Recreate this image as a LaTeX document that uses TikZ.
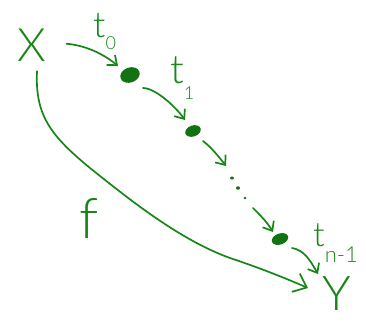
\documentclass[tikz,border=0pt]{standalone}
\usepackage{fontspec}
\newfontfamily\hand{Lato Light}
\usetikzlibrary{arrows.meta,shapes.geometric}
\definecolor{ink}{RGB}{22,134,22}
\begin{document}
\begin{tikzpicture}[x=1pt,y=-1pt,
  stroke/.style={draw=ink, line width=1.7pt, line cap=round, line join=round},
  arr/.style={stroke, -{Straight Barb[length=8pt,width=13pt]}},
  bigarr/.style={stroke, -{Straight Barb[length=12pt,width=20pt]}},
  dot/.style={ellipse, fill=ink!85!black, inner sep=0pt},
  lbl/.style={text=ink, inner sep=0pt}
]
\useasboundingbox (0,0) rectangle (366,322);
% main objects
\node[lbl, anchor=base, font=\hand\fontsize{46}{46}\selectfont] (X) at (32,61) {X};
\node[lbl, anchor=base, font=\hand\fontsize{48}{48}\selectfont] (Y) at (337,310) {Y};
\node[dot, minimum width=20pt, minimum height=15pt, rotate=20] (d1) at (130,75) {};
\node[dot, minimum width=16pt, minimum height=11pt, rotate=20] (d2) at (193,131) {};
\node[dot, minimum width=4pt, minimum height=3pt] (e1) at (232,178) {};
\node[dot, minimum width=4pt, minimum height=3.5pt] (e2) at (238,188) {};
\node[dot, minimum width=3pt, minimum height=2.5pt] (e3) at (245,198) {};
\node[dot, minimum width=17pt, minimum height=11pt, rotate=20] (d3) at (280,239) {};
% labels
\node[lbl, anchor=base west, font=\hand\fontsize{36}{36}\selectfont] (t0) at (93,37)
  {t\raisebox{-0.36em}{\fontsize{18}{18}\selectfont 0}};
\node[lbl, anchor=base west, font=\hand\fontsize{40}{40}\selectfont] (t1) at (170,83)
  {t\raisebox{-0.42em}{\fontsize{18}{18}\selectfont 1}};
\node[lbl, anchor=base west, font=\hand\fontsize{34}{34}\selectfont] (tn) at (313,246)
  {t\raisebox{-0.48em}{\fontsize{22}{22}\selectfont n-1}};
\node[lbl, anchor=base, font=\hand\fontsize{56}{56}\selectfont] (f) at (89,238) {f};
% connectors
\draw[arr] ([shift={(20,-1)}]X.east) .. controls +(22,2) and +(-12,-10) .. ([shift={(-12,-9)}]d1.center);
\draw[arr] ([shift={(13,13)}]d1.center) .. controls +(12,0) and +(-10,-14) .. ([shift={(-8,-11)}]d2.center);
\draw[arr] ([shift={(10,10)}]d2.center) .. controls +(8,6) and +(-6,-8) .. ([shift={(-6,-12)}]e1.center);
\draw[arr] ([shift={(8,10)}]e3.center) .. controls +(8,8) and +(-6,-10) .. ([shift={(-7,-7)}]d3.center);
\draw[arr] ([shift={(12,9)}]d3.center) .. controls +(12,2) and +(-8,-14) .. ([shift={(-19,-19)}]Y.center);
\draw[bigarr] ([shift={(5,10)}]X.south) .. controls (35,115) and (50,135) .. (90,168)
  .. controls (130,200) and (180,240) .. (230,258)
  .. controls (260,268) and (285,278) .. ([shift={(-29,-5)}]Y.center);
\end{tikzpicture}
\end{document}
